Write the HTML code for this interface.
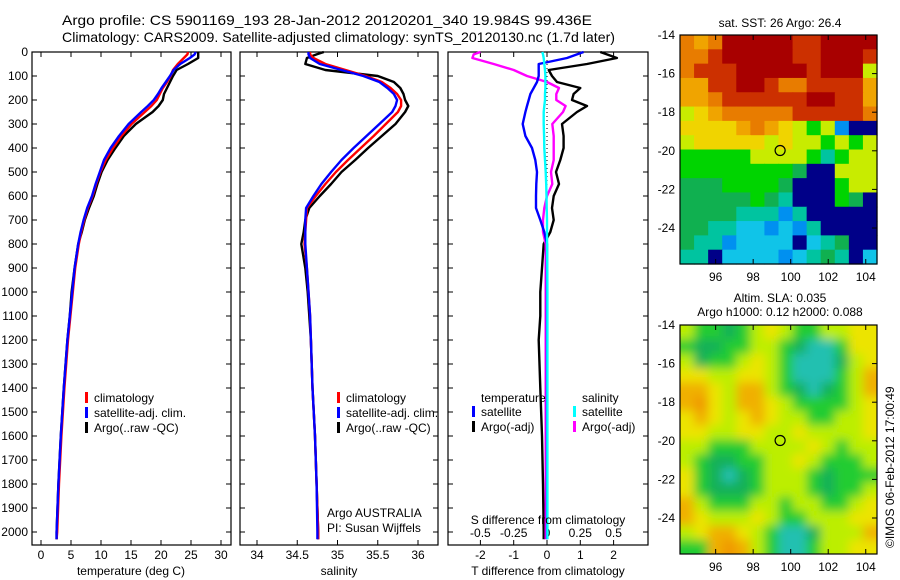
<!DOCTYPE html>
<html><head><meta charset="utf-8">
<style>
html,body{margin:0;padding:0;background:#fff;}
svg{display:block;font-family:"Liberation Sans",sans-serif;}
text{font-size:12px;fill:#000;}
</style></head>
<body>
<svg id="fig" width="900" height="580" viewBox="0 0 900 580" xmlns="http://www.w3.org/2000/svg">
<defs>
<clipPath id="clipBot"><rect x="680" y="325" width="197" height="229"/></clipPath>
<filter id="blur"><feGaussianBlur stdDeviation="5"/></filter>
</defs>
<text x="62" y="25" textLength="530" lengthAdjust="spacingAndGlyphs" style="font-size:14px">Argo profile: CS 5901169_193 28-Jan-2012 20120201_340 19.984S 99.436E</text>
<text x="62" y="42" textLength="553" lengthAdjust="spacingAndGlyphs" style="font-size:14px">Climatology: CARS2009. Satellite-adjusted climatology: synTS_20120130.nc (1.7d later)</text>
<g id="g1"></g>
<g id="g2"></g>
<g id="g3"></g>
<g id="m1"></g>
<g id="m2"></g>
<text x="780" y="27" text-anchor="middle">sat. SST: 26 Argo: 26.4</text>
<text x="780" y="302" text-anchor="middle">Altim. SLA: 0.035</text>
<text x="780" y="316" text-anchor="middle">Argo h1000: 0.12 h2000: 0.088</text>
<text transform="translate(894,548) rotate(-90)">©IMOS 06-Feb-2012 17:00:49</text>
</svg>
<script>
const depths=[0,10,25,50,75,100,125,150,175,200,225,250,300,350,400,450,500,550,600,650,700,750,800,900,1000,1100,1200,1400,1600,1800,2000,2030];
const tClim=[24.5,24.4,23.8,22.8,22.0,21.6,21.0,20.3,19.8,19.3,18.4,17.3,15.1,13.4,12.0,10.8,9.9,9.2,8.6,7.8,7.2,6.7,6.3,5.7,5.3,4.9,4.5,3.9,3.4,3.0,2.7,2.6];
const tSat=[25.8,25.6,24.8,23.2,22.1,21.5,20.8,20.1,19.5,18.8,17.8,16.7,14.6,13.0,11.6,10.5,9.8,9.1,8.5,7.7,7.1,6.6,6.2,5.6,5.2,4.8,4.4,3.8,3.3,2.9,2.6,2.6];
const tArgo=[26.2,26.2,26.2,24.5,22.6,22.0,21.5,21.0,20.5,20.3,19.6,18.6,15.8,13.8,12.4,11.1,10.1,9.4,8.8,8.0,7.3,6.8,6.2,5.6,5.1,4.8,4.4,3.8,3.3,2.9,2.6,2.6];
const sClim=[34.66,34.66,34.70,34.85,35.10,35.35,35.55,35.66,35.74,35.79,35.79,35.75,35.60,35.45,35.29,35.13,34.98,34.85,34.73,34.62,34.61,34.60,34.59,34.62,34.64,34.66,34.67,34.69,34.72,34.74,34.76,34.76];
const sSat=[34.64,34.64,34.66,34.78,35.05,35.32,35.52,35.62,35.70,35.74,35.72,35.68,35.52,35.36,35.20,35.05,34.92,34.80,34.70,34.61,34.60,34.60,34.60,34.62,34.64,34.66,34.67,34.69,34.72,34.74,34.75,34.75];
const sArgo=[34.83,34.74,34.62,34.60,34.85,35.50,35.70,35.78,35.82,35.84,35.88,35.84,35.72,35.55,35.38,35.22,35.05,34.92,34.78,34.65,34.60,34.58,34.55,34.60,34.63,34.65,34.67,34.69,34.72,34.74,34.76,34.76];
const dTSat=[1.1,0.9,0.6,-0.25,-0.25,-0.25,-0.3,-0.4,-0.5,-0.55,-0.6,-0.65,-0.73,-0.65,-0.45,-0.35,-0.3,-0.32,-0.33,-0.33,-0.2,-0.08,0,0,0,0,0,0,0,0,0,0];
const dTArgo=[1.6,1.8,2.1,1.2,0.05,0.15,0.3,1.0,0.8,0.75,1.2,0.9,0.45,0.5,0.5,0.4,0.27,0.36,0.2,0.15,0.2,0.1,-0.1,-0.15,-0.2,-0.2,-0.25,-0.2,-0.15,-0.12,-0.1,-0.1];
const dSSat=[-0.035,-0.03,-0.025,-0.02,-0.015,-0.012,-0.012,-0.012,-0.015,-0.015,-0.02,-0.025,-0.025,-0.022,-0.02,-0.015,-0.01,-0.006,-0.004,-0.002,0,0,0.001,0.002,0.003,0.003,0.003,0.003,0.003,0.003,0.003,0.003];
const dSArgo=[-0.5,-0.55,-0.56,-0.4,-0.25,-0.15,0.0,0.09,0.07,0.07,0.14,0.12,0.04,0.05,0.05,0.05,0.03,0.04,0.0,-0.02,-0.03,-0.03,-0.01,-0.01,-0.01,-0.01,-0.01,-0.01,-0.01,-0.01,-0.01,-0.01];
const depthTicks=[0,100,200,300,400,500,600,700,800,900,1000,1100,1200,1300,1400,1500,1600,1700,1800,1900,2000];
const tTicks=[0,5,10,15,20,25,30];
const sTicks=[34,34.5,35,35.5,36];
const dTTicks=[-2,-1,0,1,2];
const dSTicks=[-0.5,-0.25,0,0.25,0.5];
const sstRows=["OoODDDDDRRDDDD","OORDDDDDRRDDDR","ORRRDDDDDRDDDy","ooRRDDROORRRRo","ooORRRRRRDDRRo","yYoOOOOORRRRRO","YYYYoOoYyGyBNN","yYYYYYyYyyGyGy","GGGGGyyyyGTGyy","GGGGGGGGgNNyyy","gggGGGGgNNNGyy","gggggGgTNNNGgN","ggggTTTBTNNNNN","ggTTCCBCBTNNNN","gTTBCCCCNCTgNN","TTNCCCCBCTgTNC"];
const slaRows=["yGGgGyYyGGyyYY","GggGGyyGgCCGYY","ygGGyYyGCCCgyY","YYyyYYyGCCCGyO","OOYyOOyGgCgGyO","OoYyOOYyGGGGyY","YOYyYOYyyGGyyY","YYyyYYyyYyyyyY","yyGGGyyyyYyGyy","yGggGGyyYyGGGy","YGgCgGyyyGgGGG","YGgggGyyyGgGGy","OyGGGyyGyyGGyY","OYyyyYyGGyyyYY","yYOOYyGCCgyyyO","GGOoOyGCCGyyYY"];
const sstColors={D:"#a80000",R:"#cc3000",O:"#e87c00",o:"#f0a400",Y:"#f0d400",y:"#c8ec00",G:"#00d400",g:"#10b050",T:"#00c4a0",C:"#10c4e8",B:"#0090f0",N:"#000088"};
const slaColors={Y:"#ece400",y:"#bcee00",O:"#f0b000",o:"#f09800",G:"#20cc30",g:"#18b058",C:"#20c0b0"};

const NS="http://www.w3.org/2000/svg";
function el(parent,tag,attrs,txt){const e=document.createElementNS(NS,tag);for(const k in attrs)e.setAttribute(k,attrs[k]);if(txt!==undefined)e.textContent=txt;parent.appendChild(e);return e;}
const TOP=52,BOT=545;
const yD=d=>TOP+d*0.24;

function panel(g,x0,x1,name){
  const r=el(g,'rect',{x:x0,y:TOP,width:x1-x0,height:BOT-TOP,fill:'none',stroke:'#000','stroke-width':1.2});
  
  
  depthTicks.forEach(d=>{
    const t=el(g,'path',{d:`M${x0},${yD(d)}h5M${x1},${yD(d)}h-5`,stroke:'#000'});
    
    
  });
}
function xticks(g,vals,fx,y,labels){
  vals.forEach(v=>{
    const t=el(g,'path',{d:`M${fx(v)},${BOT}v-5M${fx(v)},${TOP}v5`,stroke:'#000'});
    
    
    if(labels){const l=el(g,'text',{x:fx(v),y:y,'text-anchor':'middle'},String(v));
    
    }
  });
}
function line(g,vals,fx,color,name){
  const p=depths.map((d,i)=>(i?'L':'M')+fx(vals[i]).toFixed(1)+','+yD(d).toFixed(1)).join('');
  const e=el(g,'path',{d:p,fill:'none',stroke:color,'stroke-width':2.4,'stroke-linejoin':'round'});
  
  
}
function legend(g,x,y,color,label){
  const m=el(g,'rect',{x:x,y:y-10,width:3,height:11,fill:color});
  
  
  const t=el(g,'text',{x:x+9,y:y},label);
  
  
}
// Panel 1
const g1=document.getElementById('g1');
const xT=v=>41+v*6;
panel(g1,32,231,'temperature-panel');
depthTicks.forEach(d=>{const l=el(g1,'text',{x:28,y:yD(d)+4,'text-anchor':'end'},String(d));

});
xticks(g1,tTicks,xT,559,true);
line(g1,tArgo,xT,'#000','temp-argo-line');
line(g1,tClim,xT,'#f00','temp-climatology-line');
line(g1,tSat,xT,'#00f','temp-satellite-line');
const xl1=el(g1,'text',{x:131,y:575,'text-anchor':'middle'},'temperature (deg C)');


legend(g1,85,402,'#f00','climatology');legend(g1,85,417,'#00f','satellite-adj. clim.');legend(g1,85,432,'#000','Argo(..raw -QC)');
// Panel 2
const g2=document.getElementById('g2');
const xS=v=>257+(v-34)*80.5;
panel(g2,240,438,'salinity-panel');
xticks(g2,sTicks,xS,559,true);
line(g2,sArgo,xS,'#000','sal-argo-line');
line(g2,sClim,xS,'#f00','sal-climatology-line');
line(g2,sSat,xS,'#00f','sal-satellite-line');
const xl2=el(g2,'text',{x:339,y:575,'text-anchor':'middle'},'salinity');


legend(g2,337,402,'#f00','climatology');legend(g2,337,417,'#00f','satellite-adj. clim.');legend(g2,337,432,'#000','Argo(..raw -QC)');
const a1=el(g2,'text',{x:327,y:517},'Argo AUSTRALIA');
const a2=el(g2,'text',{x:327,y:532},'PI: Susan Wijffels');
// Panel 3
const g3=document.getElementById('g3');
const xDT=v=>547+v*33.3;
const xDS=v=>xDT(v*4);
panel(g3,448,648,'difference-panel');
xticks(g3,dTTicks,xDT,559,true);
dSTicks.forEach(v=>{const l=el(g3,'text',{x:xDS(v),y:537,'text-anchor':'middle'},String(v));

});
const zl=el(g3,'line',{x1:xDT(0),y1:TOP,x2:xDT(0),y2:BOT,stroke:'#000','stroke-dasharray':'1,3'});

line(g3,dTArgo,xDT,'#000','tdiff-argo-line');
line(g3,dSArgo,xDS,'#f0f','sdiff-argo-line');
line(g3,dTSat,xDT,'#00f','tdiff-satellite-line');
line(g3,dSSat,xDS,'#0ff','sdiff-satellite-line');
const st=el(g3,'text',{x:548,y:524,'text-anchor':'middle'},'S difference from climatology');
const tt=el(g3,'text',{x:548,y:575,'text-anchor':'middle'},'T difference from climatology');
const h1=el(g3,'text',{x:481,y:402},'temperature');
const h2=el(g3,'text',{x:582,y:402},'salinity');
legend(g3,472,416,'#00f','satellite');legend(g3,472,431,'#000','Argo(-adj)');
legend(g3,573,416,'#0ff','satellite');legend(g3,573,431,'#f0f','Argo(-adj)');
// Maps
const LON0=94.1,LON1=104.6;
function map(g,rows,colors,top,blur,name){
  const left=680,w=197,h=229,pxLon=w/(LON1-LON0);
  const cg=el(g,'g',blur?{'clip-path':'url(#clipBot)'}:{});
  const inner=el(cg,'g',blur?{filter:'url(#blur)'}:{});
  const nr=rows.length,nc=rows[0].length,cw=w/nc,ch=h/nr;
  rows.forEach((row,r)=>{[...row].forEach((c,k)=>{
    const cell=el(inner,'rect',{x:(left+k*cw-(blur&&k==0?10:0)).toFixed(2),y:(top+r*ch-(blur&&r==0?10:0)).toFixed(2),width:(cw+0.6+(blur&&(k==0||k==nc-1)?10:0)).toFixed(2),height:(ch+0.6+(blur&&(r==0||r==nr-1)?10:0)).toFixed(2),fill:colors[c]});
    
    
  });});
  const fr=el(g,'rect',{x:left,y:top,width:w,height:h,fill:'none',stroke:'#000','stroke-width':1.2});
  
  const yLat=lat=>top+(-14-lat)*19.3;
  [-14,-16,-18,-20,-22,-24].forEach(lat=>{
    const t=el(g,'path',{d:`M${left+w},${yLat(lat)}h-5`,stroke:'#000'});
    const l=el(g,'text',{x:left-5,y:yLat(lat)+4,'text-anchor':'end'},String(lat));
  });
  [96,98,100,102,104].forEach(lon=>{
    const x=left+(lon-LON0)*pxLon;
    const t=el(g,'path',{d:`M${x},${top+h}v-5M${x},${top}v5`,stroke:'#000'});
    const l=el(g,'text',{x:x,y:top+h+17,'text-anchor':'middle'},String(lon));
  });
  const c=el(g,'circle',{cx:left+(99.436-LON0)*pxLon,cy:yLat(-19.984),r:5,fill:'none',stroke:'#000','stroke-width':1.2});
  
}
map(document.getElementById('m1'),sstRows,sstColors,35,false,'sst-map');
map(document.getElementById('m2'),slaRows,slaColors,325,true,'sla-map');
</script>
</body></html>
